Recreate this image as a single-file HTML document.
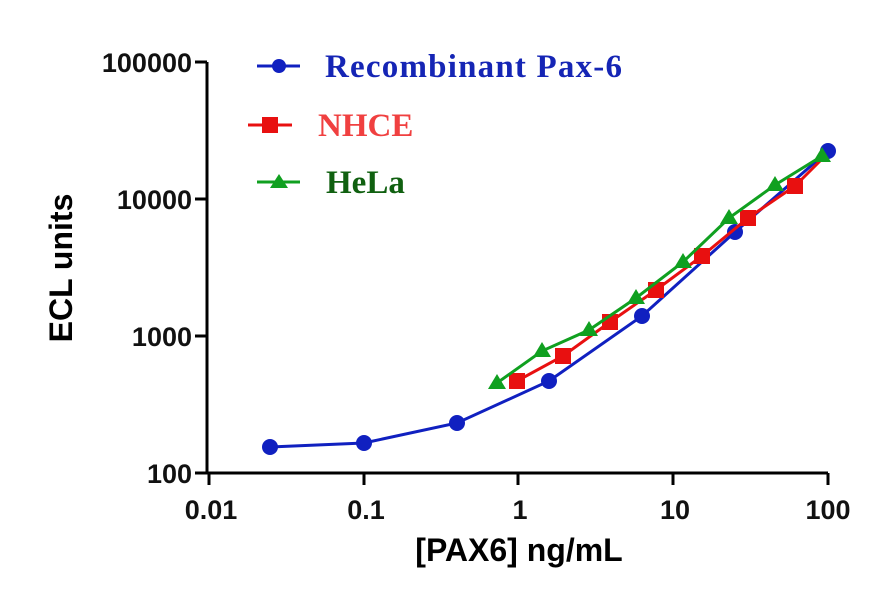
<!DOCTYPE html><html><head><style>body{margin:0;background:#fff}</style></head><body>
<svg width="874" height="594" xmlns="http://www.w3.org/2000/svg" font-family="Liberation Sans, sans-serif" font-weight="bold">
<g stroke="#000" stroke-width="3" fill="none">
<path d="M207,62V473H828"/>
<path d="M195,62H207M195,199H207M195,336H207M195,473H207"/>
<path d="M209,473V485M364,473V485M518,473V485M673,473V485M828,473V485"/>
</g>
<g font-size="27" text-anchor="end" fill="#111">
<text x="192" y="72">100000</text><text x="192" y="209">10000</text><text x="192" y="346">1000</text><text x="192" y="483">100</text>
</g>
<g font-size="27" text-anchor="middle" fill="#111">
<text x="211" y="519">0.01</text><text x="366" y="519">0.1</text><text x="520" y="519">1</text><text x="675" y="519">10</text><text x="828" y="519">100</text>
</g>
<text x="519" y="561" font-size="32" text-anchor="middle">[PAX6] ng/mL</text>
<text transform="translate(72,268) rotate(-90)" font-size="32" text-anchor="middle">ECL units</text>
<polyline fill="none" stroke="#1020c0" stroke-width="3" points="270,447 364,443 457,423 549,381 642,316 735,232 828,151"/>
<g fill="#1020c0"><circle cx="270" cy="447" r="8"/><circle cx="364" cy="443" r="8"/><circle cx="457" cy="423" r="8"/><circle cx="549" cy="381" r="8"/><circle cx="642" cy="316" r="8"/><circle cx="735" cy="232" r="8"/><circle cx="828" cy="151" r="8"/></g>
<polyline fill="none" stroke="#e81010" stroke-width="3" points="517,381 563,356 610,322 656,290 702,256 748,218 795,186 826,155"/>
<g fill="#e81010"><rect x="509" y="373" width="16" height="16"/><rect x="555" y="348" width="16" height="16"/><rect x="602" y="314" width="16" height="16"/><rect x="648" y="282" width="16" height="16"/><rect x="694" y="248" width="16" height="16"/><rect x="740" y="210" width="16" height="16"/><rect x="787" y="178" width="16" height="16"/></g>
<polyline fill="none" stroke="#10a020" stroke-width="3" points="497,383 542,351 589,330 636,298 683,262 729,218 775,185 822,156"/>
<g fill="#10a020">
<path d="M497,374l9,15h-18z"/><path d="M542,342l9,15h-18z"/><path d="M589,321l9,15h-18z"/><path d="M636,289l9,15h-18z"/><path d="M683,253l9,15h-18z"/><path d="M729,209l9,15h-18z"/><path d="M775,176l9,15h-18z"/><path d="M822,147l9,15h-18z"/></g>
<g font-family="Liberation Serif, serif" font-size="33">
<line x1="257" y1="66" x2="300" y2="66" stroke="#1020c0" stroke-width="3"/><circle cx="279" cy="66" r="7" fill="#1020c0"/>
<text x="325" y="77" fill="#1525b5" textLength="297">Recombinant Pax-6</text>
<line x1="248" y1="125" x2="292" y2="125" stroke="#e81010" stroke-width="3"/><rect x="262" y="117" width="16" height="16" fill="#e81010"/>
<text x="318" y="136" fill="#f04040">NHCE</text>
<line x1="257" y1="182" x2="300" y2="182" stroke="#10a020" stroke-width="3"/><path d="M279,174l9,14h-18z" fill="#10a020"/>
<text x="326" y="193" fill="#106010">HeLa</text>
</g>
</svg>
</body></html>
